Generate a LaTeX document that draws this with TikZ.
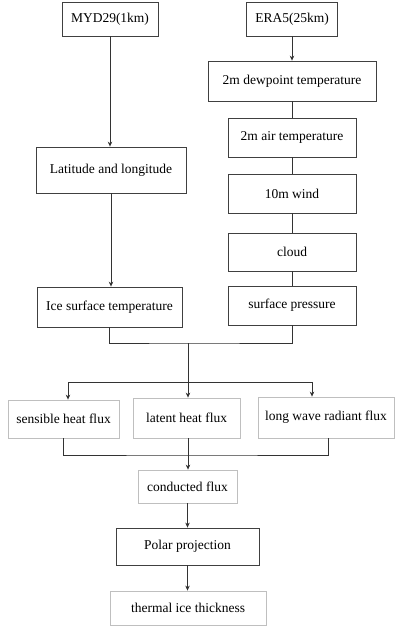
\documentclass[tikz,border=0pt]{standalone}
\usepackage{fontspec}
\setmainfont{Liberation Serif}
\usetikzlibrary{arrows.meta}
\begin{document}
\begin{tikzpicture}[x=1pt,y=-1pt,
  dbox/.style={draw=black!75,line width=0.8pt,inner sep=0pt,font=\fontsize{13.5}{15}\selectfont,text=black},
  lbox/.style={draw=black!25,line width=0.8pt,inner sep=0pt,font=\fontsize{13.5}{15}\selectfont,text=black},
  conn/.style={draw=black!80,line width=0.7pt},
  arr/.style={conn,-{Stealth[length=5pt,width=4.5pt]}}]
\useasboundingbox (0,0) rectangle (395,626);
\node[dbox,minimum width=96pt,minimum height=34pt] (myd) at (110,19) {MYD29(1km)};
\node[dbox,minimum width=91pt,minimum height=34pt] (era) at (292,19) {ERA5(25km)};
\node[dbox,minimum width=168pt,minimum height=40pt] (dew) at (292,81) {2m dewpoint temperature};
\node[dbox,minimum width=128pt,minimum height=39pt] (air) at (292,137.5) {2m air temperature};
\node[dbox,minimum width=128pt,minimum height=39pt] (wind) at (292,193.5) {10m wind};
\node[dbox,minimum width=128pt,minimum height=38pt] (cloud) at (292,252) {cloud};
\node[dbox,minimum width=128pt,minimum height=39pt] (press) at (292,305.5) {surface pressure};
\node[dbox,minimum width=150pt,minimum height=46pt] (lat) at (111,170) {Latitude and longitude};
\node[dbox,minimum width=145pt,minimum height=40pt] (ice) at (109.5,307) {Ice surface temperature};
\node[lbox,minimum width=111pt,minimum height=38pt] (sens) at (63.5,419) {sensible heat flux};
\node[lbox,minimum width=107pt,minimum height=40pt] (lh) at (186.5,418) {latent heat flux};
\node[lbox,minimum width=136pt,minimum height=41pt] (lw) at (326,417.5) {long wave radiant flux};
\node[lbox,minimum width=99pt,minimum height=33pt] (cond) at (187.5,486.5) {conducted flux};
\node[dbox,minimum width=143pt,minimum height=37pt] (polar) at (187.5,546.5) {Polar projection};
\node[lbox,minimum width=156pt,minimum height=34pt] (therm) at (188,608) {thermal ice thickness};
\coordinate (j1) at (188,343);
\coordinate (j2) at (188,382);
\coordinate (j3) at (188,455);
\draw[arr] (myd.south) -- (myd.south |- lat.north);
\draw[arr] (era.south) -- (era.south |- dew.north);
\draw[conn] (dew) -- (air);
\draw[conn] (air) -- (wind);
\draw[conn] (wind) -- (cloud);
\draw[conn] (cloud) -- (press);
\draw[arr] (lat.south) -- (lat.south |- ice.north);
\draw[conn] (ice.south) |- (j1) -| (press.south);
\draw[conn] (j1) -- (j2);
\draw[arr] (j2) -| ([xshift=4.5pt]sens.north);
\draw[arr] (j2) -| ([xshift=-14pt]lw.north);
\draw[arr] (j2) -- (j2 |- lh.north);
\draw[conn] ([xshift=-0.5pt]sens.south) |- (j3) -| ([xshift=2pt]lw.south);
\draw[conn] (j3 |- lh.south) -- (j3);
\draw[arr] (j3) -- (j3 |- cond.north);
\draw[arr] (cond.south) -- (polar.north);
\draw[arr] (polar.south) -- (polar.south |- therm.north);
\end{tikzpicture}
\end{document}
